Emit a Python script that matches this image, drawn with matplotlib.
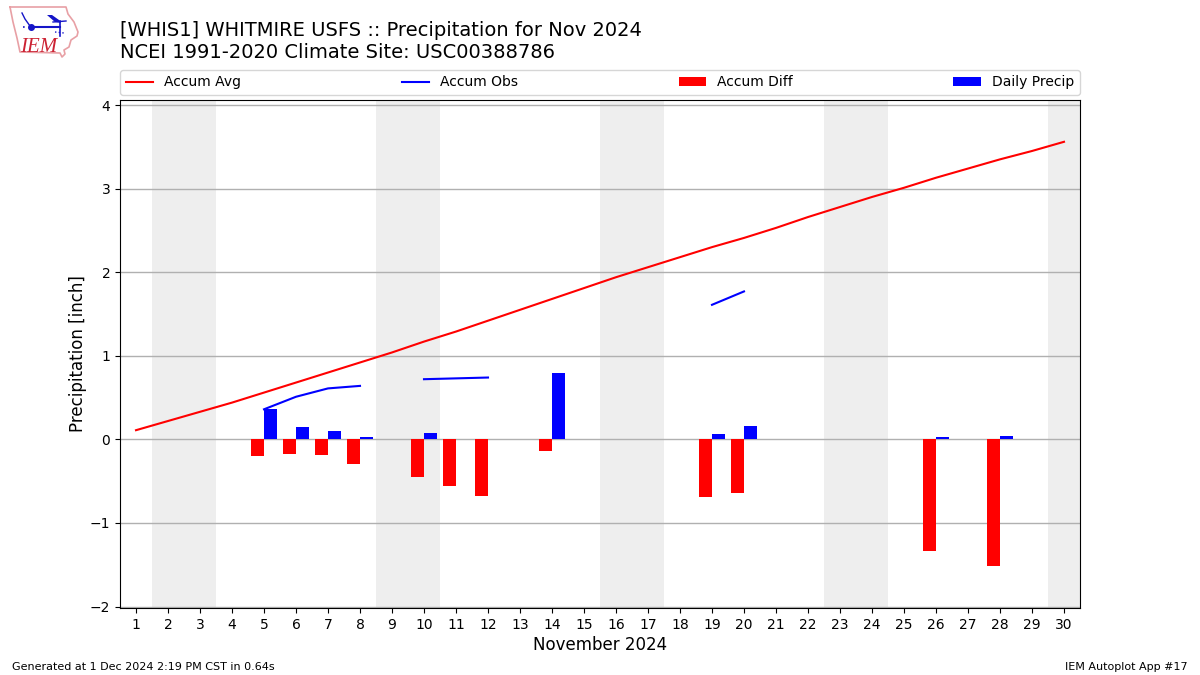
import numpy as np
import matplotlib
matplotlib.use("Agg")
import matplotlib.pyplot as plt

days = list(range(1, 31))
accum_avg = [0.11, 0.22, 0.33, 0.44, 0.56, 0.68, 0.80, 0.92, 1.04, 1.17,
             1.29, 1.42, 1.55, 1.68, 1.81, 1.94, 2.06, 2.18, 2.30, 2.41,
             2.53, 2.66, 2.78, 2.90, 3.01, 3.13, 3.24, 3.35, 3.45, 3.56]
nan = float("nan")
accum_obs = [nan, nan, nan, nan, 0.36, 0.51, 0.61, 0.64, nan, 0.72,
             0.73, 0.74, nan, 1.54, nan, nan, nan, nan, 1.61, 1.77,
             nan, nan, nan, nan, nan, 1.80, nan, 1.84, nan, nan]
accum_diff = [0, 0, 0, 0, -0.20, -0.18, -0.19, -0.29, 0, -0.45,
              -0.56, -0.68, 0, -0.14, 0, 0, 0, 0, -0.69, -0.64,
              0, 0, 0, 0, 0, -1.335, 0, -1.515, 0, 0]
daily_precip = [0, 0, 0, 0, 0.36, 0.15, 0.10, 0.03, 0, 0.075,
                0, 0, 0, 0.79, 0, 0, 0, 0, 0.065, 0.16,
                0, 0, 0, 0, 0, 0.03, 0, 0.04, 0, 0]
weekend_starts = [1.5, 8.5, 15.5, 22.5, 29.5]

W, H = 1200, 675
fig = plt.figure(figsize=(12, 6.75), dpi=100)
ax = fig.add_axes([120 / W, 1 - 608 / H, 960 / W, 508 / H])

for start in weekend_starts:
    ax.axvspan(start, start + 2, color="#EEEEEE", lw=0, zorder=0)

ax.plot(days, accum_avg, color="r", lw=1.5, label="Accum Avg", zorder=3)
ax.plot(days, accum_obs, color="b", lw=1.5, label="Accum Obs", zorder=3)
ax.bar(days, accum_diff, width=-0.4, align="edge", color="r", label="Accum Diff", zorder=3)
ax.bar(days, daily_precip, width=0.4, align="edge", color="b", label="Daily Precip", zorder=3)

ax.set_xlim(0.5, 30.5)
ax.set_ylim(-2.017, 4.06)
ax.set_xticks(days)
ax.set_yticks([-2, -1, 0, 1, 2, 3, 4])
ax.grid(axis="y", color="#B0B0B0", lw=1, zorder=1)
ax.set_axisbelow(True)
ax.set_xlabel("November 2024", fontsize=12, labelpad=3)
ax.set_ylabel("Precipitation [inch]", fontsize=12, labelpad=2)

ax.legend(loc="lower left", bbox_to_anchor=(0, 1.01, 1, 0.05), ncol=4, mode="expand",
          borderaxespad=0, fontsize=10)

fig.text(120 / W, 1 - 30 / H, "[WHIS1] WHITMIRE USFS :: Precipitation for Nov 2024",
         fontsize=14, ha="left", va="center")
fig.text(120 / W, 1 - 52 / H, "NCEI 1991-2020 Climate Site: USC00388786",
         fontsize=14, ha="left", va="center")
fig.text(12 / W, 1 - 670 / H, "Generated at 1 Dec 2024 2:19 PM CST in 0.64s", fontsize=8)
fig.text(1188 / W, 1 - 670 / H, "IEM Autoplot App #17", fontsize=8, ha="right")

# rough IEM logo, in pixel coords
logo = fig.add_axes([0, 0, 1, 1], facecolor="none")
logo.set_xlim(0, W)
logo.set_ylim(H, 0)
logo.axis("off")
outline_x = [10, 66, 68, 74, 78, 77, 71, 69, 64, 65, 62, 60, 20, 17, 13, 10]
outline_y = [7, 7, 14, 22, 32, 36, 40, 47, 50, 54, 57, 53, 52, 38, 22, 7]
logo.plot(outline_x, outline_y, color="#E8A0A5", lw=1.2)
logo.plot([31, 60], [27, 27], color="#1515C8", lw=1.5)
logo.fill([47, 52, 59, 61, 55], [15, 15, 20, 23, 22], color="#1515C8", lw=0)
logo.plot([53, 66], [22, 21], color="#1515C8", lw=1)
logo.plot([60, 60], [21, 36], color="#1515C8", lw=1.2)
logo.plot([55, 64], [32, 33], color="#1515C8", lw=1, ls=":")
logo.plot([22, 25, 30], [13, 19, 26], color="#1515C8", lw=1)
logo.plot([23, 27], [27, 27], color="#1515C8", lw=1.2, ls=":")
logo.plot([31], [27], "o", color="#1515C8", ms=4)
logo.text(20, 52, "IEM", color="#CC2233", fontsize=15, family="Liberation Serif", style="italic")

fig.savefig("out.png", dpi=100)
